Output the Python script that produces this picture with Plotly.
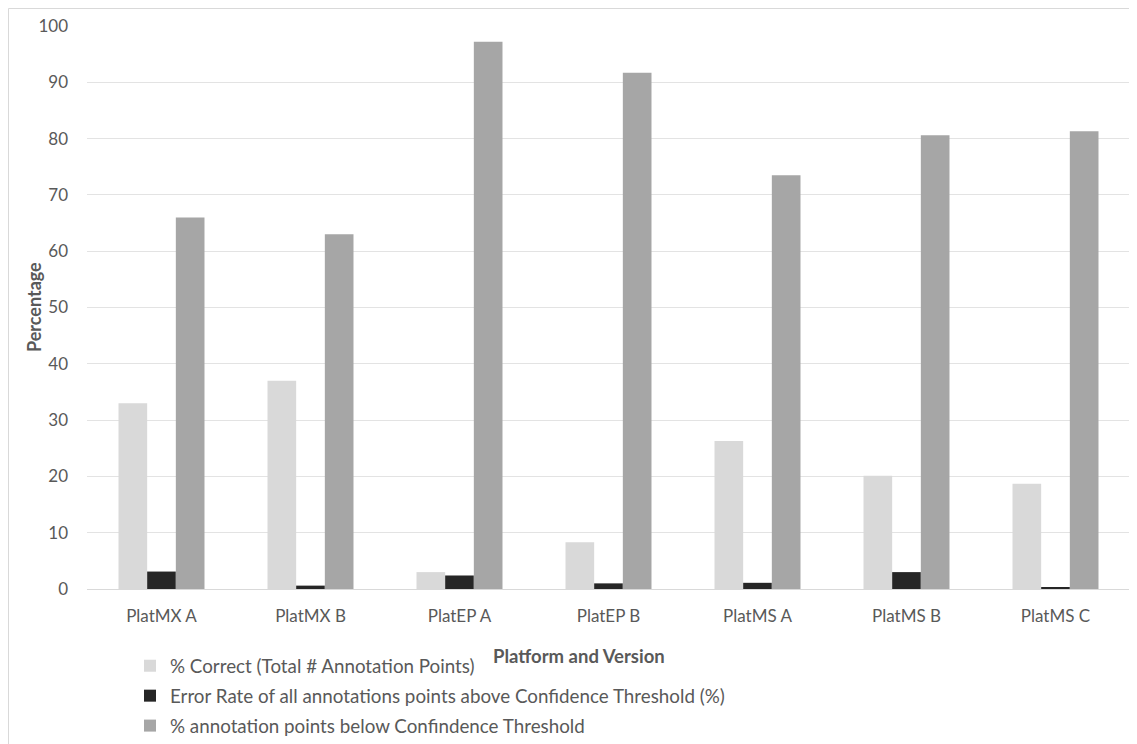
import plotly.graph_objects as go

categories = ["PlatMX A", "PlatMX B", "PlatEP A", "PlatEP B", "PlatMS A", "PlatMS B", "PlatMS C"]
pct_correct = [33.0, 37.0, 3.0, 8.3, 26.3, 20.1, 18.7]
error_rate = [3.1, 0.6, 2.4, 1.0, 1.1, 3.0, 0.2]
below_threshold = [66.0, 63.0, 97.2, 91.7, 73.5, 80.6, 81.3]

names = [
    "% Correct (Total # Annotation Points)",
    "Error Rate of all annotations points above Confidence Threshold (%)",
    "% annotation points below Confindence Threshold",
]
colors = ["#d9d9d9", "#262626", "#a6a6a6"]
series = [pct_correct, error_rate, below_threshold]

FONT = "Lato, Open Sans, sans-serif"
W, H = 1129, 736
L, R, T, B = 79, 7, 18, 155
PW, PH = W - L - R, H - T - B

fig = go.Figure()
for i, (nm, vals, c) in enumerate(zip(names, series, colors)):
    fig.add_trace(go.Bar(x=categories, y=vals, name=nm, marker_color=c,
                         marker_line_width=0, legendgroup=str(i)))

fig.update_layout(
    width=W, height=H,
    paper_bgcolor="white", plot_bgcolor="white",
    margin=dict(l=L, r=R, t=T, b=B, autoexpand=False),
    barmode="group", bargap=0.423, bargroupgap=0,
    font=dict(family=FONT, size=17, color="#595959"),
    xaxis=dict(showgrid=False, showline=True, linecolor="#d9d9d9", linewidth=1,
               ticks="", ticklabelstandoff=12, tickfont=dict(size=17, color="#595959")),
    yaxis=dict(range=[0, 100], dtick=10, showgrid=True, gridcolor="#e3e3e3",
               zeroline=False, showline=False, ticks="", ticklabelstandoff=18,
               tickfont=dict(size=17, color="#595959")),
    legend=dict(orientation="v", xref="container", yref="container",
                x=122 / W, y=1 - 639 / H, xanchor="left", yanchor="top",
                font=dict(size=18.8, color="#595959"), tracegroupgap=2.5,
                itemwidth=30, bgcolor="rgba(0,0,0,0)"),
    showlegend=True,
    shapes=[dict(type="rect", xref="paper", yref="paper",
                 x0=(0.5 - L) / PW, x1=1.05,
                 y0=-0.4, y1=(PH + T - 0.5) / PH,
                 line=dict(color="#d9d9d9", width=1), fillcolor="rgba(0,0,0,0)",
                 layer="below")],
    annotations=[
        dict(text="<b>Platform and Version</b>", xref="paper", yref="paper",
             x=(571 - L) / PW, y=-0.119, xanchor="center", yanchor="middle",
             showarrow=False, font=dict(size=18.5, color="#595959")),
        dict(text="<b>Percentage</b>", xref="paper", yref="paper",
             x=(25.5 - L) / PW, y=0.5, xanchor="center", yanchor="middle",
             showarrow=False, textangle=-90, font=dict(size=18, color="#595959")),
    ],
)

fig.write_html("out.html",
               post_script="document.body.style.overflow='hidden';document.documentElement.style.overflow='hidden';")
